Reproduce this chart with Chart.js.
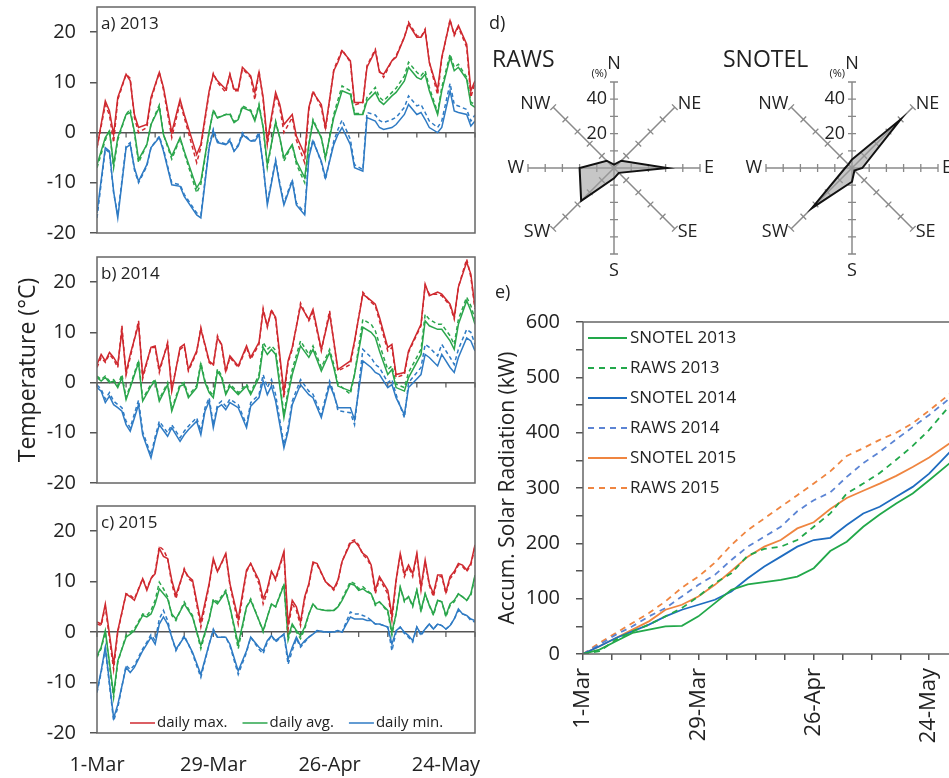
<!DOCTYPE html>
<html>
<head>
<meta charset="utf-8">
<script src="https://cdn.jsdelivr.net/npm/chart.js@4.4.1/dist/chart.umd.min.js"></script>
<style>
  html, body { margin:0; padding:0; background:#fff; overflow:hidden; width:949px; height:778px; }
  canvas { position:absolute; }
  .lbl { position:absolute; font-family:"Open Sans", sans-serif; color:#222; white-space:nowrap; line-height:1; }
</style>
</head>
<body>
<canvas id="tA" width="490" height="250" style="left:0;top:0"></canvas>
<canvas id="tB" width="490" height="250" style="left:0;top:250px"></canvas>
<canvas id="tC" width="490" height="278" style="left:0;top:500px"></canvas>
<canvas id="roseR" width="240" height="240" style="left:494px;top:48px"></canvas>
<canvas id="roseS" width="240" height="240" style="left:732px;top:48px"></canvas>
<canvas id="solar" width="470" height="498" style="left:490px;top:280px"></canvas>

<div class="lbl" style="left:101px;top:14px;font-size:17px">a) 2013</div>
<div class="lbl" style="left:101px;top:264px;font-size:17px">b) 2014</div>
<div class="lbl" style="left:101px;top:513px;font-size:17px">c) 2015</div>
<div class="lbl" style="left:489px;top:13px;font-size:18px">d)</div>
<div class="lbl" style="left:492px;top:47px;font-size:23px">RAWS</div>
<div class="lbl" style="left:723px;top:47px;font-size:23px">SNOTEL</div>
<div class="lbl" style="left:495px;top:282px;font-size:18px">e)</div>

<script>
// ---- date axis (days since 1-Mar) ----
const tickDays  = [0, 28, 56, 84];
const tickNames = ['1-Mar', '29-Mar', '26-Apr', '24-May'];

// ---- 2013 temperatures (°C); solid = SNOTEL, dashed = RAWS ----
const days13 = [0,2,3,4,5,7,8,9,10,12,13,15,16,18,20,21,24,25,27,28,29,31,32,33,34,35,37,38,39,40,41,43,44,45,47,48,50,51,52,54,55,57,58,59,61,62,64,65,67,68,69,71,72,74,75,77,78,79,80,82,83,85,86,87,89,90,91];
const max13 = [-3,6.3,4.3,-0.4,7,11.6,10.3,3.6,1,1.6, 7,12,9,0,6.6,3.6,-4.4,-2.4,8.3,11.6, 10.3,8.6,11.6,8.6,8.6,13,11.3,8,12,7, -1.7,8,5.6,1.6,3.6,-0.7,-4.4,5,8,5.6, 1,12.3,14,16.3,14.3,6,6,13,16.3,12, 11.6,14.3,15,19,21.6,19,19,20.3,14,8.6, 15,22.3,19.6,21.3,17.6,8.3,10.3];
const avg13 = [-6.4,-1,0.3,-6.4,-1,3.6,4,0.3,-5.4,-2.4, 1.6,5,-0.4,-4.7,-1,-3.7,-11,-9.7,0.3,4.3, 2.9,3.6,3.6,2,2.6,5,4.3,2.3,5.3,1, -6.4,2,-1,-5,-2.4,-5.7,-9,-2.4,2.3,-1, -5,3,5.6,8.3,7.6,3.6,3.6,6.3,8,6.3, 5.6,7.3,8,10.3,13,11,10.6,11.6,8.3,3.6, 8.3,15,12.3,13,10.6,5.6,5];
const min13 = [-16,-3,-3.7,-11.7,-17,-3,-2.4,-7,-9.7,-6.4, -3,-1,-3.7,-10.4,-10.7,-12.7,-16.4,-17,-3,0.3, -2,-2.4,-1.7,-3.7,-2.7,-0.4,-1.7,-1.7,-0.4,-6.4, -14.4,-5.7,-10.4,-14.4,-9.7,-14.4,-16.4,-5,-1.7,-5.7, -9,-2.4,-0.4,1,-2.4,-7,-7.7,3,2.3,1, 0.6,1,1.6,3.6,5.6,3.6,4,2.6,1,0, 1,8.3,4.3,4,3.6,1.3,2.3];
const max13r = [-3,5.5,3.5,-2,6.5,11.6,10.8,3,0,1, 6.5,12,8.5,-1,6,3,-6,-3,8,11.8, 10,8,11.6,8.3,8.3,12.7,11,6.5,12.3,6.5, -2.5,7.5,5,0,3,-1.5,-6,4.5,8.3,5, 0.5,12.5,14.5,16.5,14,5.5,6,13.3,16.6,12.3, 11,14.3,15.3,19,22,19.3,19,20.6,14,7.5, 14.7,22.5,19.3,21,17,7,10];
const avg13r = [-7,-1.5,0.5,-7,-1.5,3.6,4.7,0,-6,-2.4, 1.6,5.5,-0.4,-5.3,-1.2,-4,-12,-10.3,0,4.5, 3,3.6,3.8,2.2,2.8,5.3,4.5,2.5,5.7,1, -7,2.3,-1,-5.7,-2.4,-6.3,-10,-2.4,2.6,-1, -5.3,3.6,6.5,9.3,8.3,3.8,3.8,7,9,7, 6.3,8,8.8,11.3,14,12,11.3,12.3,9,4, 9,15.6,13,13.6,11,6,5.7];
const min13r = [-17,-3.3,-4,-12,-16.4,-2.7,-2,-7.4,-10,-6.7, -3,-0.7,-3.3,-10,-10.4,-12.3,-16,-16.4,-2.7,0.7, -1.7,-2.3,-1.3,-3.7,-2.4,0,-1.7,-1.4,0,-6.7, -14,-5.4,-10,-14,-9.4,-14,-16,-4.4,-1.4,-6, -9.4,-1.7,0.6,2.5,-1.4,-6.4,-7.4,4,3.5,2.4, 2,2.6,3,5,7.3,5.3,5.6,4,2.3,1, 2.3,9.8,5.6,5.3,4.6,2.3,3.5];

// ---- 2014 ----
const days14 = [0,1,2,3,4,5,6,7,8,10,11,13,14,15,17,18,20,21,22,24,25,26,27,28,29,30,31,32,34,36,37,39,40,41,42,43,45,46,47,49,51,52,54,56,57,58,61,62,64,66,67,68,70,71,72,74,75,78,79,80,82,83,85,86,87,89,90,91];
const max14 = [3.6,5.6,4.3,6,5,3.6,10.3,2,5.6,11.6, 1.3,7,7.3,2.6,7.6,-1.7,7,7.6,2.6,6.3, 10.6,7.6,4.3,3.6,8.9,7.6,2.3,5.3,3.3,7.3, 5,8,14.3,11.3,14.3,13,-2,4.3,7,15.3, 12.6,14.6,6.6,13.6,8.3,2.6,4.3,8.3,17.6,16.3, 15.6,13,7,7.6,1.6,2,6.3,11.6,19.6,17.3, 18,17.6,15.6,13,19,24,21.6,15];
const avg14 = [1,0.3,1,0,0.3,-1,1,-3.4,-1,4, -3.7,-0.7,0.3,-3.7,-0.4,-5.7,-0.7,-0.4,-3,-1, 3.6,0,-2,-3,2.3,1,-2.4,-0.7,-2.4,-0.7, -2.4,1,7,5.6,6.6,5.6,-7,-2.4,1.6,7.3, 5,6.6,2.3,6,3,-0.7,-1.7,1.6,11,10, 9,6.3,1.6,2.6,-1,-1.7,1,5.6,12.3,11.3, 10.6,10.6,8.3,6.6,11.6,16.3,14.3,11.6];
const min14 = [-1,-1.7,-4,-2.7,-4.4,-5,-5.7,-8.4,-9.7,-4.4, -10.4,-15,-11.4,-8.4,-10.7,-9,-11.7,-10.4,-9.4,-7.7, -10.4,-5.7,-3.7,-9,-5,-4.4,-5.4,-4,-5,-9, -4.7,-3,0.3,-2.4,-0.7,-3.7,-13,-9.7,-4.4,-0.4, -2.4,-3,-7,-0.4,-2.4,-5,-5,-7.4,4.3,3, 2,1.6,-1,-0.4,-3,-6.4,-1,1.6,5.6,5, 3.3,5.6,3,2,5,8.9,8.3,6.3];
const max14r = [3,5,4,5.6,4.6,3,11.3,1.5,5,12.3, 0.8,7,7,2,8,-1.3,6.6,7.3,2.3,6, 11,7.3,4,3.3,9.3,7.3,2,5,3,7, 4.6,7.6,14.8,11,14.6,12.6,-3,4,6.6,15.8, 12.3,14,6.3,14.3,8,2.3,3.6,8,18,16, 15.3,12.3,6.3,7,1,1.6,6,11.3,19.3,17.6, 17.6,17.3,15.3,12.6,19,24.6,21,14.6];
const avg14r = [1.3,0.6,1.3,0.3,0.6,-0.6,1.6,-3,-0.6,4.4, -3.3,-0.3,0.6,-3.3,0,-5.3,-0.3,0,-2.6,-0.6, 4,0.3,-1.6,-2.6,2.7,1.4,-2,-0.3,-2,-0.3, -2,1.6,8,6.6,7.3,6.4,-6.3,-1.6,2.6,8.3, 5.6,7.3,3,6.6,3.6,-0.3,-2.3,1.6,12.6,11.6, 10.3,7.6,2.6,3.3,-0.3,-1,2,6.6,13.6,12.6, 11.6,11.6,9.3,7.6,12.6,17,15.3,12.6];
const min14r = [-0.5,-1.3,-3.3,-2,-3.7,-4.4,-5,-7.7,-9,-3.5, -9.8,-14.4,-10.8,-7.7,-10,-8.4,-11,-9.7,-8.7,-7, -9.7,-5,-3,-8.4,-4.4,-3.7,-4.7,-3.3,-4.4,-8.4, -4,-2.4,1.6,-1,0.6,-2.4,-12.4,-9,-3.7,0.6, -1.7,-2.3,-6.4,0.3,-2,-5.6,-6,-8.4,6.6,5, 3.6,3,0,0.6,-2.4,-7,0,3,7.6,7, 5.3,7.6,5,3.6,6.6,10.6,10,7.6];

// ---- 2015 ----
const days15 = [0,1,2,4,5,7,8,9,11,12,13,14,15,16,17,18,19,21,22,23,25,27,28,29,31,32,34,36,37,39,40,41,42,43,45,46,47,48,49,50,51,52,53,55,57,58,59,61,62,63,64,65,66,67,68,70,71,72,73,74,75,76,77,78,79,80,81,82,83,84,85,86,87,88,89,90,91];
const max15 = [2,1.6,5.6,-6.4,0.3,7.6,7,6.3,10.6,8.3, 10.6,11.6,16.6,15,14.6,10.3,7.3,12.3,11,10.3, 2,9.6,14.6,12,15.6,9.6,2.6,12.3,13.6,10.3, 6.6,8.6,12,10.6,16,1.6,6.3,5,2,7, 9.6,13.9,13.6,10,8.6,10.3,14,17.6,18,17, 15.6,15,13.3,8.3,11,8.3,3.3,10.3,15.6,11.6, 13.3,11.6,15.6,8.9,14.3,9.6,7.6,11.3,11.3,7.9, 11,12,13.6,13.3,12.3,13.6,17.3];
const avg15 = [-4.7,-3,0.3,-12.4,-5.7,-1,-0.4,0.3,3.3,3, 3.6,5.6,8.6,7.6,6.6,3.6,2.6,5.6,4.3,3, -2.7,2.6,6.3,5.6,8,5,-2.4,5,6.3,2.3, 0.3,3,5.6,5,9.3,-1,1.6,0.3,-0.7,1, 3.6,5.6,4.6,4.3,4.3,5,6.3,9.6,9.3,8.3, 8.6,8,7.6,5.6,6,4.3,0,3.6,8.9,6.3, 7,5.3,8.3,4.3,7.6,5.3,3.6,6.3,6,3.3, 5.6,6.3,7.6,7,6.3,7.6,11.3];
const min15 = [-11.7,-7.7,-3,-17,-14.4,-7,-8,-7,-3.7,-2.4, -1,-2.4,1.6,3,1.6,-1,-3.4,-1,-2.4,-4, -8.4,-2.4,0.3,-1,-1,-2.4,-7.7,-3.7,-1,-3, -3.7,-1.7,-0.7,-1.7,-0.4,-5.4,-3,-1,-2.7,-1.7, -1,-0.4,0.3,0,0,0.3,0,3,2.6,2.6, 2.6,2.3,2.3,1.6,1.6,1,-2.4,0.3,1,0, -0.7,-1.7,1,-0.4,0.6,1.6,0.6,1.6,1.3,0.6, 1.3,2.6,4.6,3.6,3.3,2.6,2.3];
const max15r = [1.6,1.3,5,-7.4,0,7.6,7.3,6.6,10.6,8.6, 10.6,12,17,16.3,14.6,9.6,6.6,12.6,10.6,10, 1,9.3,14.3,12,15.3,9.3,1.6,12,13.6,9.6, 5.6,8,12,10.3,15.6,0.6,5.6,4.3,1.3,6.6, 9.3,13.6,13.3,10,8.3,10,14,18,18.3,17.3, 15.3,14.6,13,7.6,10.6,7.6,2.3,10,15.3,11, 13,11,15.3,8.3,14,9.3,7,11,11,7.6, 10.6,11.6,13.3,13,12,13.3,17];
const avg15r = [-5,-3.3,0,-13,-6,-0.6,0,0.6,3.6,3.3, 4.3,6.3,9.9,8.6,7,3.3,2.3,6,4.6,3.3, -3.3,2.6,6.6,6,8.3,5,-3.3,5,6.6,2.3, 0,3,5.6,5,9.6,-1.6,1.3,0,-1.3,0.6, 3.6,5.6,4.6,4.3,4.3,5,6.6,10,9.6,8.6, 9,8.3,7.6,5.3,6,4,-0.6,3.6,8.9,6, 7,5,8.3,4,7.6,5.3,3.3,6.3,6,3, 5.3,6,7.6,7,6.3,7.3,11];
const min15r = [-12,-8,-3.3,-17.6,-15,-6.6,-7.4,-6.6,-3.3,-2, -0.5,-1.7,2.6,4.3,2.3,-1,-3.7,-0.7,-2.4,-4.3, -9,-2.4,0.6,-1,-1,-2.7,-8.4,-4,-1,-3.4, -4.3,-2,-0.7,-2,-0.4,-6.4,-3.7,-1.3,-3,-2, -1,-0.4,0.3,0,0,0.3,0,4,3.6,3.6, 3.3,3,2.3,1.6,1.6,1,-3.7,0,1,-0.3, -1,-2,1,-0.7,0.6,1.6,0.6,1.6,1.3,0.6, 1.3,2.6,4.3,3.6,3.3,2.3,2];

// ---- wind direction frequency (%) ----
const roseDirs   = ['N', 'NE', 'E', 'SE', 'S', 'SW', 'W', 'NW'];
const rawsRose   = [2, 6, 31, 4, 6, 27, 20, 6];
const snotelRose = [5, 40, 6, 2, 8, 33, 4, 3];

// ---- accumulated solar radiation (kW) ----
const solarDays = [0,4,8,12,16,20,24,28,32,36,40,44,48,52,56,60,64,68,72,76,80,84,89];
const snotel13 = [0,8,23,38,44,50,51,68,92,116,126,130,134,140,155,186,203,230,252,272,290,314,345];
const raws13   = [0,5,26,41,53,68,83,104,128,146,178,190,194,206,230,254,290,308,327,351,376,405,449];
const snotel14 = [0,14,29,41,53,68,80,89,98,113,137,158,176,194,206,210,233,254,266,284,302,326,365];
const raws14   = [0,17,35,50,68,83,104,125,143,170,194,212,230,258,278,292,320,345,365,388,410,432,462];
const snotel15 = [0,14,29,44,59,80,89,104,125,150,176,194,206,227,238,262,282,295,308,322,338,355,381];
const raws15   = [0,20,38,56,74,95,120,140,165,197,224,245,266,287,308,330,358,372,387,400,417,440,470];

const RED = '#cf2a30', GREEN = '#2ba64c', BLUE = '#2f7bc4';
const C13 = '#22a84a', C14 = '#1f6cc0', C14R = '#5b84d4', C15 = '#ef8540';

Chart.defaults.font.family = '"Open Sans", sans-serif';
Chart.defaults.color = '#222';
Chart.defaults.animation = false;

const dayLabel = v => { const k = tickDays.indexOf(v); return k < 0 ? '' : tickNames[k]; };
const pairs = (xs, ys) => ys.map((v, i) => ({ x: xs[i], y: v }));
// pin an axis to a fixed thickness and drop the edge padding Chart.js reserves for end labels
const fixAxis = (w, h) => sc => {
  if (w != null) sc.width = w;
  if (h != null) sc.height = h;
  sc.paddingTop = sc.paddingBottom = sc.paddingLeft = sc.paddingRight = 0;
};

// box around the plotting area
const framePlugin = {
  id: 'frame',
  afterDatasetsDraw(chart) {
    const { ctx, chartArea: a } = chart;
    ctx.save();
    ctx.strokeStyle = '#666';
    ctx.lineWidth = 1.5;
    ctx.strokeRect(a.left, a.top, a.right - a.left, a.bottom - a.top);
    ctx.restore();
  }
};

// weekly tick marks hanging from the 0 °C line
const zeroTicks = {
  id: 'zeroTicks',
  beforeDatasetsDraw(chart) {
    const { ctx, scales: { x, y } } = chart;
    const y0 = y.getPixelForValue(0);
    ctx.save();
    ctx.strokeStyle = '#555';
    ctx.lineWidth = 1.2;
    ctx.beginPath();
    x.ticks.forEach(t => {
      const px = x.getPixelForValue(t.value);
      ctx.moveTo(px, y0);
      ctx.lineTo(px, y0 + 5);
    });
    ctx.stroke();
    ctx.restore();
  }
};

// legend row along the bottom of panel c
const tempLegend = {
  id: 'tempLegend',
  afterDraw(chart) {
    const { ctx, chartArea: a } = chart;
    const items = [['daily max.', RED], ['daily avg.', GREEN], ['daily min.', BLUE]];
    ctx.save();
    ctx.font = '15px "Open Sans", sans-serif';
    ctx.textBaseline = 'middle';
    let x = a.left + 33;
    const y = a.bottom - 10;
    items.forEach(([txt, col]) => {
      ctx.strokeStyle = col; ctx.lineWidth = 1.5;
      ctx.beginPath(); ctx.moveTo(x, y); ctx.lineTo(x + 25, y); ctx.stroke();
      ctx.fillStyle = '#222';
      ctx.fillText(txt, x + 27, y);
      x += 27 + ctx.measureText(txt).width + 15;
    });
    ctx.restore();
  }
};

function tempChart(id, days, s, padTop, xH, showDates, showTitle) {
  const line = (vals, color, dashed) => ({
    data: pairs(days, vals), borderColor: color, borderWidth: 1.5,
    borderDash: dashed ? [4, 3] : [], pointRadius: 0, tension: 0, fill: false
  });
  const plugins = [framePlugin, zeroTicks];
  if (showDates) plugins.push(tempLegend);
  new Chart(document.getElementById(id), {
    type: 'line',
    data: { datasets: [
      line(s.maxR, RED, true), line(s.avgR, GREEN, true), line(s.minR, BLUE, true),
      line(s.max, RED), line(s.avg, GREEN), line(s.min, BLUE)
    ] },
    options: {
      responsive: false,
      layout: { padding: { top: padTop, right: 15, left: 0, bottom: 0 } },
      plugins: { legend: { display: false }, tooltip: { enabled: false } },
      scales: {
        x: {
          type: 'linear', min: 0, max: 91,
          grid: { display: false, drawTicks: false }, border: { display: false },
          ticks: { display: showDates, stepSize: 7, autoSkip: false, maxRotation: 0,
                   padding: 20, font: { size: 20 }, callback: dayLabel },
          afterFit: fixAxis(null, xH)
        },
        y: {
          min: -20, max: 25, border: { display: false },
          grid: { color: c => c.tick && c.tick.value === 0 ? '#555' : 'rgba(0,0,0,0)',
                  tickColor: '#555', tickLength: 7, lineWidth: 1.5 },
          ticks: { stepSize: 5, padding: 14, font: { size: 20 },
                   callback: v => v % 10 === 0 ? v : '' },
          title: { display: showTitle, text: 'Temperature (°C)', font: { size: 23 },
                   padding: { top: 15, bottom: 0 } },
          afterFit: fixAxis(97, null)
        }
      }
    },
    plugins
  });
}

tempChart('tA', days13, { max: max13, avg: avg13, min: min13, maxR: max13r, avgR: avg13r, minR: min13r }, 7, 17, false, false);
tempChart('tB', days14, { max: max14, avg: avg14, min: min14, maxR: max14r, avgR: avg14r, minR: min14r }, 7, 17, false, true);
tempChart('tC', days15, { max: max15, avg: avg15, min: min15, maxR: max15r, avgR: avg15r, minR: min15r }, 6, 45, true, false);

// spoke tick marks, compass letters and % labels for the wind roses
const rosePlugin = {
  id: 'roseMarks',
  beforeDatasetsDraw(chart) {
    const { ctx } = chart, r = chart.scales.r;
    ctx.save();
    ctx.strokeStyle = '#888';
    ctx.lineWidth = 1.3;
    ctx.beginPath();
    chart.data.labels.forEach((_, i) => {
      for (let v = 10; v <= 50; v += 10) {
        const p = r.getPointPosition(i, r.getDistanceFromCenterForValue(v));
        const nx = -Math.sin(p.angle) * 4, ny = Math.cos(p.angle) * 4;
        ctx.moveTo(p.x - nx, p.y - ny);
        ctx.lineTo(p.x + nx, p.y + ny);
      }
    });
    ctx.stroke();
    ctx.restore();
  },
  afterDatasetsDraw(chart) {
    const { ctx } = chart, r = chart.scales.r;
    const gap   = [18, 4, 4, 4, 17, 4, 4, 4];
    const align = ['center', 'left', 'left', 'left', 'center', 'right', 'right', 'right'];
    ctx.save();
    ctx.fillStyle = '#222';
    ctx.textBaseline = 'middle';
    ctx.font = '18px "Open Sans", sans-serif';
    chart.data.labels.forEach((lab, i) => {
      const p = r.getPointPosition(i, r.drawingArea + gap[i]);
      ctx.textAlign = align[i];
      ctx.fillText(lab, p.x, p.y);
    });
    ctx.textAlign = 'right';
    [20, 40].forEach(v => {
      const p = r.getPointPosition(0, r.getDistanceFromCenterForValue(v));
      ctx.fillText(String(v), r.xCenter - 7, p.y);
    });
    ctx.font = '11px "Open Sans", sans-serif';
    ctx.fillText('(%)', r.xCenter - 7, r.yCenter - r.drawingArea - 8);
    ctx.restore();
  }
};

function roseChart(id, vals) {
  new Chart(document.getElementById(id), {
    type: 'radar',
    data: { labels: roseDirs, datasets: [{
      data: vals, fill: true, backgroundColor: 'rgba(160,160,160,0.6)',
      borderColor: '#111', borderWidth: 2, pointRadius: 0, tension: 0
    }] },
    options: {
      responsive: false,
      layout: { padding: 34 },
      plugins: { legend: { display: false }, tooltip: { enabled: false } },
      scales: { r: {
        min: 0, max: 50, startAngle: 0,
        ticks: { display: false, stepSize: 10 },
        grid: { display: false },
        angleLines: { display: true, color: '#8a8a8a', lineWidth: 1.5 },
        pointLabels: { display: false }
      } }
    },
    plugins: [rosePlugin]
  });
}
roseChart('roseR', rawsRose);
roseChart('roseS', snotelRose);

// panel e legend, stacked in the upper left of the plot
const solarLegend = {
  id: 'solarLegend',
  afterDraw(chart) {
    const { ctx, chartArea: a } = chart;
    ctx.save();
    ctx.font = '17px "Open Sans", sans-serif';
    ctx.textBaseline = 'middle';
    chart.data.datasets.forEach((d, i) => {
      const y = a.top + 16 + i * 30;
      ctx.strokeStyle = d.borderColor; ctx.lineWidth = 1.8;
      ctx.setLineDash(d.borderDash);
      ctx.beginPath(); ctx.moveTo(a.left + 5, y); ctx.lineTo(a.left + 44, y); ctx.stroke();
      ctx.setLineDash([]);
      ctx.fillStyle = '#222';
      ctx.fillText(d.label, a.left + 47, y);
    });
    ctx.restore();
  }
};

const sLine = (label, vals, color, dashed) => ({
  label, data: pairs(solarDays, vals), borderColor: color, borderWidth: 1.8,
  borderDash: dashed ? [6, 5] : [], pointRadius: 0, tension: 0, fill: false
});

new Chart(document.getElementById('solar'), {
  type: 'line',
  data: { datasets: [
    sLine('SNOTEL 2013', snotel13, C13, false),
    sLine('RAWS 2013', raws13, C13, true),
    sLine('SNOTEL 2014', snotel14, C14, false),
    sLine('RAWS 2014', raws14, C14R, true),
    sLine('SNOTEL 2015', snotel15, C15, false),
    sLine('RAWS 2015', raws15, C15, true)
  ] },
  options: {
    responsive: false,
    layout: { padding: { top: 42, right: 2, left: 0, bottom: 0 } },
    plugins: { legend: { display: false }, tooltip: { enabled: false } },
    scales: {
      x: {
        type: 'linear', min: 0, max: 91, border: { display: false },
        grid: { drawOnChartArea: false, tickLength: 6, tickColor: '#555', lineWidth: 1.5 },
        ticks: { stepSize: 7, autoSkip: false, minRotation: 90, maxRotation: 90,
                 padding: 8, font: { size: 22 }, callback: dayLabel },
        afterFit: fixAxis(null, 124)
      },
      y: {
        min: 0, max: 600, border: { display: false },
        grid: { drawOnChartArea: false, tickLength: 7, tickColor: '#555', lineWidth: 1.5 },
        ticks: { stepSize: 50, padding: 16, font: { size: 20 },
                 callback: v => v % 100 === 0 ? v : '' },
        title: { display: true, text: 'Accum. Solar Radiation (kW)', font: { size: 21 },
                 padding: { top: 5, bottom: 0 } },
        afterFit: fixAxis(93, null)
      }
    }
  },
  plugins: [framePlugin, solarLegend]
});
</script>
</body>
</html>
